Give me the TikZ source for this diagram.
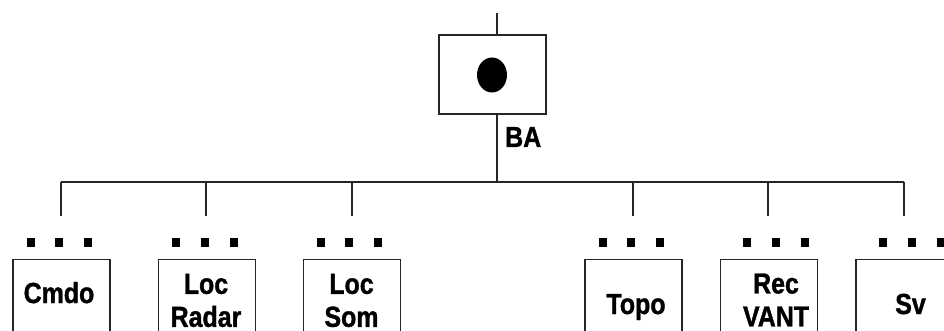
\documentclass[tikz,border=0pt]{standalone}
\usepackage{fontspec}
\setmainfont{Liberation Sans}[FakeStretch=0.86]
\newfontfamily\lblfont{Liberation Sans Bold}[FakeStretch=0.86,FakeBold=1.2]
\usetikzlibrary{shapes.geometric}
\begin{document}
\begin{tikzpicture}[x=1pt,y=-1pt,
  conn/.style={draw=black!85, line width=1.3pt},
  box/.style={draw=black!85, line width=1.4pt, minimum width=97pt, minimum height=110pt, anchor=north, inner sep=0pt},
  topbox/.style={draw=black!85, line width=1.4pt, minimum width=107pt, minimum height=79pt, inner sep=0pt},
  lbl/.style={font=\fontsize{29}{33}\lblfont, align=center, inner sep=0pt},
  sq/.style={fill=black, minimum size=8.5pt, inner sep=0pt}]
\useasboundingbox (0,0) rectangle (944,331);
\clip (0,0) rectangle (944,331);

% top block
\node[topbox] (top) at (492.5,74.5) {};
\node[fill=black, ellipse, minimum width=30pt, minimum height=35pt, inner sep=0pt] (blob) at (492,75) {};
\node[lbl, anchor=base west] (ba) at (505,147) {BA};
\coordinate (topin) at (497,13);
\coordinate (bus) at (497,182);
\coordinate (busL) at (61,182);
\coordinate (busR) at (904,182);
\draw[conn] (topin) -- (topin |- top.north);
\draw[conn] (bus |- top.south) -- (bus);
\draw[conn] (busL) -- (busR);

% children drops
\foreach \n/\x in {1/61,2/206,3/352,4/633,5/768,6/904}{
  \coordinate (d\n) at (\x,216);
  \draw[conn] (\x,182) -- (d\n);
}

% dots
\foreach \n/\a/\b/\c in {1/31/59/88,2/176/205/234,3/321/349/378,4/603/631/660,5/747/776/805,6/883/912/941}{
  \node[sq] (s\n a) at (\a,242.5) {};
  \node[sq] (s\n b) at (\b,242.5) {};
  \node[sq] (s\n c) at (\c,242.5) {};
}

% boxes
\node[box] (b1) at (61.5,259) {};
\node[box] (b2) at (207,259) {};
\node[box] (b3) at (352,259) {};
\node[box] (b4) at (633.5,259) {};
\node[box] (b5) at (769,259) {};
\node[box] (b6) at (904.5,259) {};

% labels
\node[lbl, anchor=base] (t1) at (59,303) {Cmdo};
\node[lbl] (t2) at (206,300.5) {Loc\\Radar};
\node[lbl] (t3) at (351.5,300.5) {Loc\\Som};
\node[lbl, anchor=base] (t4) at (636,314) {Topo};
\node[lbl] (t5) at (776,300) {Rec\\VANT};
\node[lbl, anchor=base] (t6) at (910.5,314) {Sv};
\end{tikzpicture}
\end{document}
